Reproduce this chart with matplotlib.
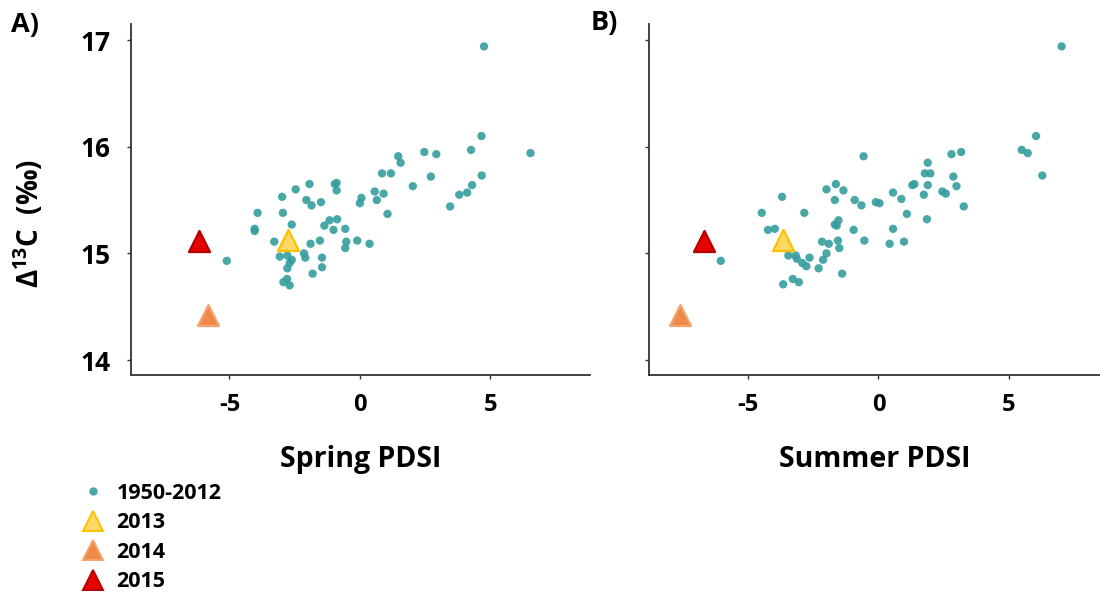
import matplotlib
matplotlib.use('Agg')
import matplotlib.pyplot as plt
from matplotlib.lines import Line2D

# ---------------- data ----------------
spring_pdsi = [4.76, 4.66, 6.54, 2.47, 2.93, 4.26, 1.47, 1.56, 0.85, 1.19,
               2.72, 4.67, 2.03, 4.30, 4.11, 3.81, 3.46, 0.57, 0.91, 0.65,
               0.06, 0.00, 1.06, -1.93, -0.96, -0.89, -0.89, -2.46, -2.98, -2.05,
               -1.85, -1.49, -3.92, -2.95, -4.03, -4.03, -2.61, -1.16, -0.87, -1.36,
               -1.01, -0.56, -3.28, -1.53, -1.89, -0.52, -0.10, 0.37, -0.56, -5.10,
               -3.07, -2.78, -2.61, -2.69, -2.78, -2.14, -2.09, -1.45, -1.45, -1.81,
               -2.79, -2.93, -2.69]
spring_d13c = [16.94, 16.10, 15.94, 15.95, 15.93, 15.97, 15.91, 15.85, 15.75, 15.75,
               15.72, 15.73, 15.63, 15.64, 15.57, 15.55, 15.44, 15.58, 15.56, 15.50,
               15.52, 15.47, 15.37, 15.65, 15.65, 15.66, 15.59, 15.60, 15.53, 15.50,
               15.45, 15.48, 15.38, 15.38, 15.23, 15.21, 15.27, 15.31, 15.32, 15.26,
               15.22, 15.23, 15.11, 15.12, 15.09, 15.11, 15.12, 15.09, 15.05, 14.93,
               14.97, 14.98, 14.94, 14.91, 14.86, 15.00, 14.96, 14.96, 14.87, 14.81,
               14.76, 14.73, 14.70]

summer_pdsi = [7.02, 6.04, 5.49, 5.72, 6.28, -0.57, 2.80, 3.17, 1.89, 1.78,
               1.99, 2.87, 1.30, 1.38, 1.89, 2.99, 0.56, 1.74, 2.45, 2.58,
               3.27, 0.88, -0.10, 0.04, 1.09, 1.86, 0.56, 0.43, 0.98, -1.63,
               -1.99, -1.34, -1.67, -0.91, -0.65, -3.69, -4.47, -2.84, -4.23, -3.97,
               -1.53, -1.67, -1.60, -0.95, -2.16, -1.90, -1.55, -1.50, -0.54, -1.99,
               -2.12, -2.29, -1.39, -6.04, -3.45, -3.17, -3.13, -2.64, -2.92, -2.76,
               -3.28, -3.05, -3.65]
summer_d13c = [16.94, 16.10, 15.97, 15.94, 15.73, 15.91, 15.93, 15.95, 15.85, 15.75,
               15.75, 15.72, 15.64, 15.65, 15.64, 15.63, 15.57, 15.55, 15.58, 15.56,
               15.44, 15.51, 15.48, 15.47, 15.37, 15.32, 15.23, 15.09, 15.11, 15.65,
               15.60, 15.59, 15.50, 15.50, 15.45, 15.53, 15.38, 15.38, 15.22, 15.23,
               15.31, 15.27, 15.26, 15.22, 15.11, 15.09, 15.12, 15.05, 15.12, 15.00,
               14.94, 14.86, 14.81, 14.93, 14.98, 14.98, 14.95, 14.96, 14.91, 14.88,
               14.76, 14.73, 14.71]

recent_years = ['2013', '2014', '2015']
recent_d13c = [15.13, 14.42, 15.12]
recent_spring = [-2.77, -5.82, -6.15]
recent_summer = [-3.67, -7.62, -6.68]

base_label = '1950-2012'
x_labels = ['Spring PDSI', 'Summer PDSI']
panel_labels = ['A)', 'B)']
y_ticks = [14, 15, 16, 17]
x_ticks = [-5, 0, 5]

# ---------------- style ----------------
FONT = 'Open Sans'
plt.rcParams['font.family'] = [FONT, 'DejaVu Sans']
plt.rcParams['font.weight'] = 'bold'
plt.rcParams['axes.unicode_minus'] = False
plt.rcParams['mathtext.fontset'] = 'custom'
plt.rcParams['mathtext.bf'] = FONT + ':bold'
plt.rcParams['mathtext.rm'] = FONT + ':bold'

teal = '#369E9E'
tri_fill = ['#FFD966', '#EE8A48', '#E60000']
tri_edge = ['#FFC000', '#F4A46E', '#B40000']
spine_col = '#333333'

W, H = 1100, 593
fig = plt.figure(figsize=(W / 100, H / 100), dpi=100)

axA = fig.add_axes([131 / W, 1 - 375 / H, 459 / W, 351 / H])
axB = fig.add_axes([649 / W, 1 - 375 / H, 451 / W, 351 / H])

panels = [(axA, spring_pdsi, spring_d13c, recent_spring, (-8.77, 8.82)),
          (axB, summer_pdsi, summer_d13c, recent_summer, (-8.79, 8.49))]

for i, (ax, xs, ys, rx, xl) in enumerate(panels):
    ax.scatter(xs, ys, s=36, color=teal, alpha=0.9, edgecolors='none', zorder=3)
    for j in range(len(recent_years)):
        ax.scatter([rx[j]], [recent_d13c[j]], marker='^', s=230,
                   facecolor=tri_fill[j], edgecolor=tri_edge[j], linewidth=1.6, zorder=4)
    ax.set_xlim(*xl)
    ax.set_ylim(13.86, 17.15)
    ax.set_xticks(x_ticks)
    ax.set_yticks(y_ticks)
    for s in ['top', 'right']:
        ax.spines[s].set_visible(False)
    for s in ['left', 'bottom']:
        ax.spines[s].set_color(spine_col)
        ax.spines[s].set_linewidth(1.3)
    ax.tick_params(axis='both', direction='out', length=3, width=1, color=spine_col)
    ax.tick_params(axis='x', labelsize=17, pad=10)
    ax.tick_params(axis='y', labelsize=19, pad=12)
    for lab in ax.get_xticklabels() + ax.get_yticklabels():
        lab.set_fontweight('bold')
    ax.set_xlabel(x_labels[i], fontsize=20.5, fontweight='bold', labelpad=20)
    if i == 1:
        ax.set_yticklabels([])

fig.text(29 / W, 1 - 224 / H, r'Δ$^{\mathbf{13}}$C  (‰)', rotation=90,
         fontsize=20, fontweight='bold', ha='center', va='center')
fig.text(11 / W, 1 - 25 / H, panel_labels[0], fontsize=19.5, fontweight='bold',
         ha='left', va='center')
fig.text(591 / W, 1 - 23 / H, panel_labels[1], fontsize=19.5, fontweight='bold',
         ha='left', va='center')

handles = [Line2D([], [], marker='o', linestyle='none', markersize=6,
                  markerfacecolor=teal, markeredgecolor='none', alpha=0.9)]
for j in range(len(recent_years)):
    handles.append(Line2D([], [], marker='^', linestyle='none', markersize=14,
                          markerfacecolor=tri_fill[j], markeredgecolor=tri_edge[j],
                          markeredgewidth=1.4))
leg = fig.legend(handles, [base_label] + recent_years, loc='upper left',
                 bbox_to_anchor=(80 / W, 1 - 483 / H), frameon=False,
                 prop={'family': FONT, 'weight': 'bold', 'size': 15.5},
                 handlelength=1.2, handletextpad=0.5, labelspacing=0.39,
                 borderaxespad=0, borderpad=0)

fig.savefig('out.png', dpi=100)
